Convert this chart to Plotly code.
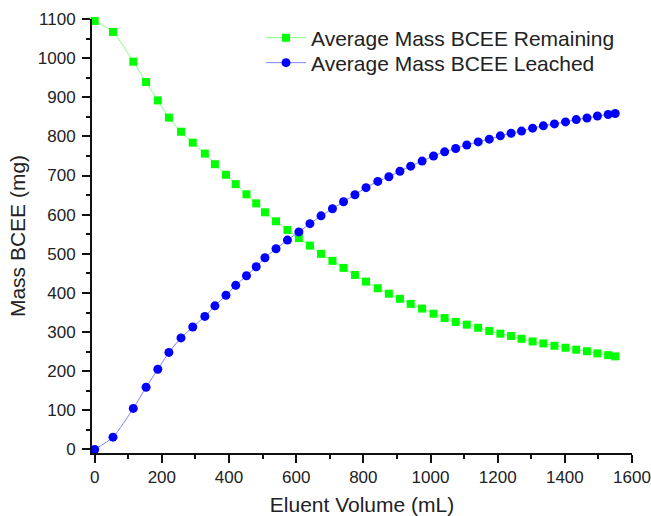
import plotly.graph_objects as go

eluent_volume_ml = [0, 54.5, 115, 153, 188, 221, 257, 292, 328, 358, 391, 420, 452, 481,
                    507, 540, 574, 608, 641, 674, 708, 741, 775, 808, 843, 876, 909, 941,
                    975, 1009, 1042, 1075, 1108, 1142, 1175, 1208, 1240, 1271, 1304, 1336,
                    1369, 1402, 1434, 1466, 1497, 1529, 1550]

mass_remaining_mg = [1095, 1067, 991, 939, 892, 848, 812, 784, 756, 729, 702, 678, 652, 629,
                     606, 583, 561, 540, 521, 500, 482, 464, 446, 429, 412, 398, 385, 372,
                     360, 347, 336, 326, 319, 311, 303, 296, 290, 283, 276, 271, 265, 260,
                     255, 251, 245.5, 241, 238]

mass_leached_mg = [0, 31.5, 105, 159, 205, 248, 285, 313, 340, 367, 394, 419.5, 444, 467,
                   490, 513, 535, 556, 577, 597, 615, 633, 651, 669, 685, 697, 711, 724,
                   737, 750, 760.5, 769, 778, 786, 793, 801.5, 808, 813.5, 821, 827, 832, 837,
                   843, 847, 852, 856, 858.5]

x_ticks = [0, 200, 400, 600, 800, 1000, 1200, 1400, 1600]
y_ticks = [0, 100, 200, 300, 400, 500, 600, 700, 800, 900, 1000, 1100]

FONT = "Arial, Liberation Sans, sans-serif"

fig = go.Figure()
fig.add_trace(go.Scatter(
    x=eluent_volume_ml, y=mass_remaining_mg, mode="lines+markers",
    name="Average Mass BCEE Remaining", legend="legend",
    line=dict(color="#7fff7f", width=1, shape="spline", smoothing=0.6),
    marker=dict(symbol="square", size=8, color="#00ff00", line=dict(width=0)),
    cliponaxis=False,
))
fig.add_trace(go.Scatter(
    x=eluent_volume_ml, y=mass_leached_mg, mode="lines+markers",
    name="Average Mass BCEE Leached", legend="legend2",
    line=dict(color="#8080ff", width=1, shape="spline", smoothing=0.6),
    marker=dict(symbol="circle", size=9, color="#0000ff", line=dict(width=0)),
    cliponaxis=False,
))

axis_common = dict(
    showgrid=False, zeroline=False, showline=True, linecolor="#111111", linewidth=2,
    ticks="outside", ticklen=8, tickwidth=1.5, tickcolor="#111111",
    tickfont=dict(family=FONT, size=17, color="#222222"),
    mirror=False, automargin=True,
)

fig.update_xaxes(
    range=[-8, 1600], tickvals=x_ticks,
    minor=dict(ticks="outside", ticklen=4, dtick=100, tick0=0, tickcolor="#111111", tickwidth=1.5),
    title=dict(text="Eluent Volume (mL)", font=dict(family=FONT, size=21, color="#222222"), standoff=14),
    **axis_common,
)
fig.update_yaxes(
    range=[-9, 1100], tickvals=y_ticks, ticklabelstandoff=3,
    minor=dict(ticks="outside", ticklen=4, dtick=50, tick0=0, tickcolor="#111111", tickwidth=1.5),
    title=dict(text="Mass BCEE (mg)", font=dict(family=FONT, size=21, color="#222222"), standoff=6),
    **axis_common,
)

legend_common = dict(
    xanchor="left", yanchor="middle",
    font=dict(family=FONT, size=21, color="#222222"),
    bgcolor="rgba(0,0,0,0)", itemwidth=40,
)

fig.update_layout(
    width=651, height=516,
    margin=dict(l=92, r=19, t=19, b=63, autoexpand=False),
    paper_bgcolor="white", plot_bgcolor="white",
    showlegend=True,
    legend=dict(x=0.313, y=(453 - 38) / 434, **legend_common),
    legend2=dict(x=0.313, y=(453 - 63) / 434, **legend_common),
)

# remove the browser's default 8px body margin so the figure fills the window exactly
fig.write_html("out.html",
               config={"displayModeBar": False},
               post_script="document.body.style.margin='0';document.body.style.overflow='hidden';")
